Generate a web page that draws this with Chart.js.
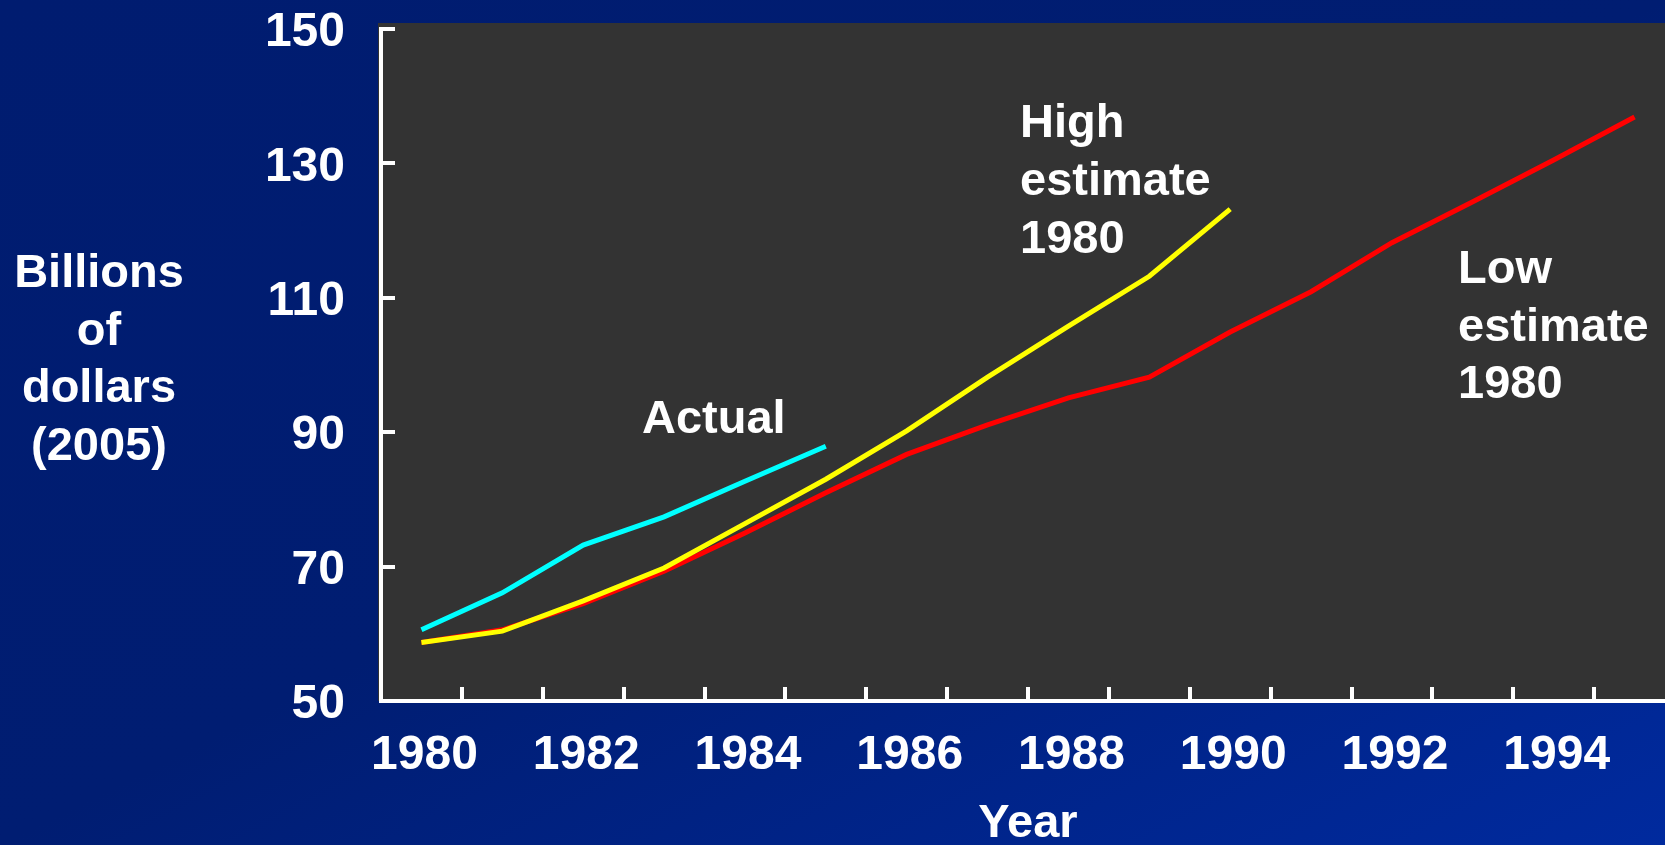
<!DOCTYPE html>
<html>
<head>
<meta charset="utf-8">
<script src="https://cdn.jsdelivr.net/npm/chart.js@4.4.1/dist/chart.umd.min.js"></script>
<style>
  html, body {
    margin: 0;
    width: 1665px;
    height: 845px;
    overflow: hidden;
    background: linear-gradient(to bottom right, #001c70 0%, #001d72 50%, #002a9e 100%);
  }
  #wrap { width: 1680px; height: 845px; }
</style>
</head>
<body>
<div id="wrap"><canvas id="chartCanvas" width="1680" height="845"></canvas></div>
<script>
// --- data (billions of 2005 dollars) ---
const years = [1980, 1981, 1982, 1983, 1984, 1985, 1986, 1987,
               1988, 1989, 1990, 1991, 1992, 1993, 1994, 1995];
const actual = [60.6, 66.1, 73.2, 77.4, 82.7, 87.9];
const highEstimate = [58.7, 60.4, 64.9, 69.8, 76.4, 83.0, 90.2, 98.2, 105.8, 113.2, 123.2];
const lowEstimate = [58.7, 60.6, 64.5, 69.3, 75.0, 81.0, 86.7, 91.1, 95.1, 98.2,
                     104.9, 110.9, 118.2, 124.3, 130.5, 136.9];
const yTicks = [50, 70, 90, 110, 130, 150];

const FONT = 'Arial, "Liberation Sans", sans-serif';
const canvas = document.getElementById("chartCanvas");

// dark plot panel behind the axes
const panelBg = {
  id: "panelBg",
  beforeDraw(chart) {
    const { ctx, chartArea: a } = chart;
    ctx.save();
    ctx.fillStyle = "#333333";
    ctx.fillRect(a.left - 3, a.top - 6, a.right - a.left + 3, a.bottom - a.top + 6);
    ctx.restore();
  }
};

// free text: y title and the series notes
const notes = {
  id: "notes",
  afterDraw(chart) {
    const ctx = chart.ctx;
    ctx.save();
    ctx.fillStyle = "#ffffff";
    ctx.font = `bold 47px ${FONT}`;
    ctx.textBaseline = "alphabetic";

    ctx.textAlign = "center";
    ["Billions", "of", "dollars", "(2005)"].forEach((t, i) => ctx.fillText(t, 99, 287 + i * 57.7));

    ctx.textAlign = "left";
    ctx.fillText("Actual", 642, 433);
    ["High", "estimate", "1980"].forEach((t, i) => ctx.fillText(t, 1020, 137 + i * 58));
    ["Low", "estimate", "1980"].forEach((t, i) => ctx.fillText(t, 1458, 283 + i * 57.5));
    ctx.restore();
  }
};

const tickFont = { family: FONT, size: 48, weight: "bold" };

// keep the axes from pushing the plot area around
function noPad(scale) {
  scale.paddingTop = 0;
  scale.paddingBottom = 0;
  scale.paddingLeft = 0;
  scale.paddingRight = 0;
}

new Chart(canvas, {
  type: "line",
  data: {
    labels: years.map(String),
    datasets: [
      { label: "Actual", data: actual, borderColor: "#00ffff" },
      { label: "High estimate 1980", data: highEstimate, borderColor: "#ffff00" },
      { label: "Low estimate 1980", data: lowEstimate, borderColor: "#ff0000" }
    ]
  },
  options: {
    responsive: false,
    animation: false,
    devicePixelRatio: 1,
    layout: { autoPadding: false, padding: { left: 0, right: 5, top: 29, bottom: 0 } },
    elements: {
      line: { borderWidth: 5, tension: 0, fill: false, borderCapStyle: "butt" },
      point: { radius: 0, hoverRadius: 0 }
    },
    plugins: {
      legend: { display: false },
      tooltip: { enabled: false }
    },
    scales: {
      x: {
        offset: true,
        afterFit(scale) { scale.height = 144; noPad(scale); },
        grid: {
          offset: true,
          drawOnChartArea: false,
          drawTicks: true,
          tickLength: -14,
          color: "#ffffff",
          lineWidth: 4
        },
        border: { display: true, color: "#ffffff", width: 4 },
        ticks: {
          color: "#ffffff",
          font: tickFont,
          padding: 40,
          labelOffset: 3,
          autoSkip: false,
          maxRotation: 0,
          minRotation: 0,
          callback: (v, i) => (years[i] % 2 === 0 ? String(years[i]) : "")
        },
        title: {
          display: true,
          text: "Year",
          color: "#ffffff",
          font: { family: FONT, size: 47, weight: "bold", lineHeight: 0.875 },
          padding: 0
        }
      },
      y: {
        min: 50,
        max: 150,
        afterFit(scale) { scale.width = 381; noPad(scale); },
        afterBuildTicks(scale) { scale.ticks = yTicks.map(v => ({ value: v })); },
        grid: {
          drawOnChartArea: false,
          drawTicks: true,
          tickLength: -14,
          color: "#ffffff",
          lineWidth: 4
        },
        border: { display: true, color: "#ffffff", width: 4 },
        ticks: {
          color: "#ffffff",
          font: tickFont,
          padding: 50,
          labelOffset: 4
        }
      }
    }
  },
  plugins: [panelBg, notes]
});
</script>
</body>
</html>
